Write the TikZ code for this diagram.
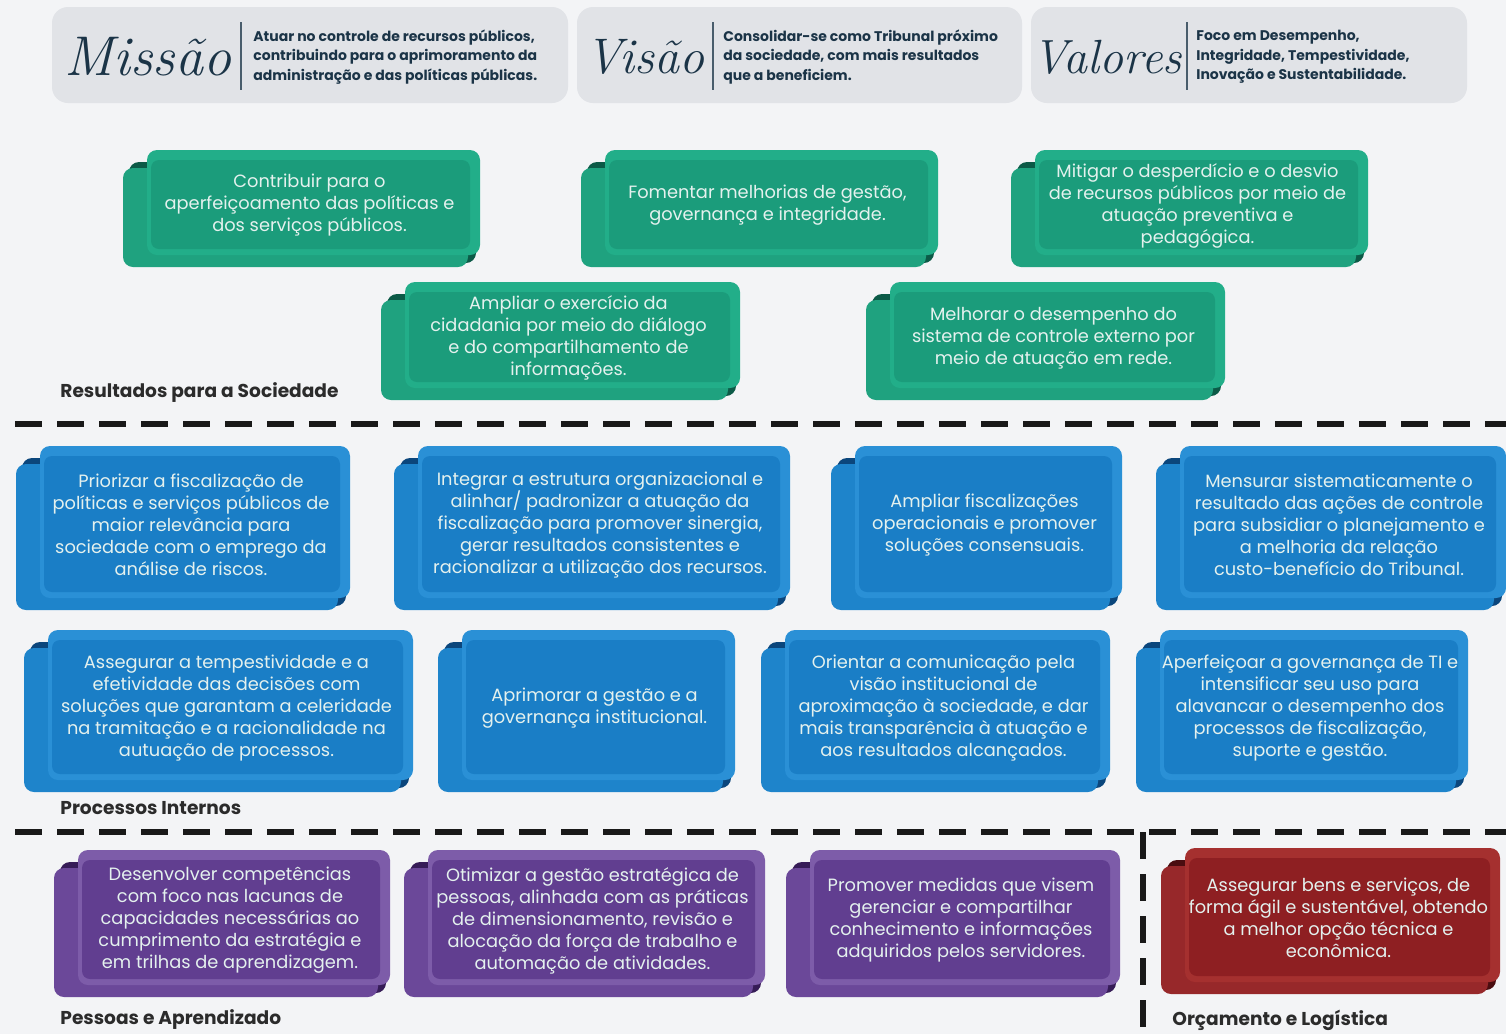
\documentclass[tikz,border=0pt]{standalone}
\usepackage{fontspec}
\newfontfamily\poppins{Poppins}
\usetikzlibrary{calc}

\definecolor{bgcol}{HTML}{F3F4F6}
\definecolor{headfill}{HTML}{E1E3E7}
\definecolor{navy}{HTML}{1B3447}
\definecolor{labelcol}{HTML}{2B2B2B}
\definecolor{boxtext}{HTML}{E4F1EE}
% resultados
\definecolor{resframe}{HTML}{22AE89}
\definecolor{resinner}{HTML}{1B9C7B}
\definecolor{resback}{HTML}{1FA27F}
\definecolor{resdark}{HTML}{0C5A47}
% processos
\definecolor{procframe}{HTML}{2A90D6}
\definecolor{procinner}{HTML}{1A7EC6}
\definecolor{procback}{HTML}{1E84CB}
\definecolor{procdark}{HTML}{0B467C}
% pessoas
\definecolor{pesframe}{HTML}{7D5CA9}
\definecolor{pesinner}{HTML}{613E90}
\definecolor{pesback}{HTML}{6B4899}
\definecolor{pesdark}{HTML}{361C57}
% orcamento
\definecolor{orcframe}{HTML}{A5302F}
\definecolor{orcinner}{HTML}{8E1F22}
\definecolor{orcback}{HTML}{97282A}
\definecolor{orcdark}{HTML}{4A0D10}

% #1 name, #2-#5 front box, #6 colour prefix, #7 text
\newcommand{\objbox}[7]{%
  \fill[#6dark, rounded corners=5pt] (#2-18,#3+12) rectangle (#4-4,#5+8);
  \fill[#6back, rounded corners=5pt] (#2-24,#3+18) rectangle (#4-12,#5+12);
  \fill[#6frame, rounded corners=5pt] (#2,#3) rectangle (#4,#5);
  \fill[#6inner, rounded corners=4pt] (#2+4,#3+10) rectangle (#4-10,#5-6);
  \node[objtext] (#1) at ({(#2+#4)/2-4},{(#3+#5)/2+3}) {#7};
}

\begin{document}
\begin{tikzpicture}[x=0.5pt,y=-0.5pt,
  objtext/.style={text=boxtext, align=center, inner sep=0pt,
    font=\poppins\fontsize{8.9}{11}\selectfont},
  headtext/.style={text=navy, align=left, anchor=west, inner sep=0pt,
    font=\poppins\bfseries\fontsize{7}{9.8}\selectfont},
  scriptword/.style={text=navy, inner sep=0pt,
    font=\fontsize{#1}{#1}\selectfont\itshape},
  headbar/.style={draw=navy!80, line width=1pt},
  seclabel/.style={text=labelcol, anchor=west, inner sep=0pt,
    font=\poppins\bfseries\fontsize{9.3}{11}\selectfont},
  sepline/.style={draw=black!90, line width=3pt, dash pattern=on 13.5pt off 7.5pt}]

  \useasboundingbox (0,0) rectangle (1506,1034);
  \fill[bgcol] (0,0) rectangle (1506,1034);

  % header
  \fill[headfill, rounded corners=8pt] (52,7) rectangle (568,103);
  \fill[headfill, rounded corners=8pt] (577,7) rectangle (1022,103);
  \fill[headfill, rounded corners=8pt] (1031,7) rectangle (1467,103);

  \node[scriptword=28] (missao) at (148,57) {Missão};
  \draw[headbar] (241,22) -- (241,90);
  \node[headtext] (missaotxt) at (253,57) {Atuar no controle de recursos públicos,\\contribuindo para o aprimoramento da\\administração e das políticas públicas.};

  \node[scriptword=25] (visao) at (645,57) {Visão};
  \draw[headbar] (713,22) -- (713,90);
  \node[headtext] (visaotxt) at (723,57) {Consolidar-se como Tribunal próximo\\da sociedade, com mais resultados\\que a beneficiem.};

  \node[scriptword=24] (valores) at (1107,57) {Valores};
  \draw[headbar] (1187,22) -- (1187,90);
  \node[headtext] (valorestxt) at (1196,57) {Foco em Desempenho,\\Integridade, Tempestividade,\\Inovação e Sustentabilidade.};

  % resultados para a sociedade
  \objbox{res1}{147}{150}{480}{255}{res}{Contribuir para o\\aperfeiçoamento das políticas e\\dos serviços públicos.}
  \objbox{res2}{605}{150}{938}{255}{res}{Fomentar melhorias de gestão,\\governança e integridade.}
  \objbox{res3}{1035}{150}{1368}{255}{res}{Mitigar o desperdício e o desvio\\de recursos públicos por meio de\\atuação preventiva e\\pedagógica.}
  \objbox{res4}{405}{282}{740}{388}{res}{Ampliar o exercício da\\cidadania por meio do diálogo\\e do compartilhamento de\\informações.}
  \objbox{res5}{890}{282}{1225}{388}{res}{Melhorar o desempenho do\\sistema de controle externo por\\meio de atuação em rede.}
  \node[seclabel] (lblres) at (60,393) {Resultados para a Sociedade};

  \draw[sepline] (15,424) -- (1506,424);

  % processos internos
  \objbox{proc1}{40}{446}{350}{598}{proc}{Priorizar a fiscalização de\\políticas e serviços públicos de\\maior relevância para\\sociedade com o emprego da\\análise de riscos.}
  \objbox{proc2}{418}{446}{790}{598}{proc}{Integrar a estrutura organizacional e\\alinhar/ padronizar a atuação da\\fiscalização para promover sinergia,\\gerar resultados consistentes e\\racionalizar a utilização dos recursos.}
  \objbox{proc3}{855}{446}{1122}{598}{proc}{Ampliar fiscalizações\\operacionais e promover\\soluções consensuais.}
  \objbox{proc4}{1180}{446}{1506}{598}{proc}{Mensurar sistematicamente o\\resultado das ações de controle\\para subsidiar o planejamento e\\a melhoria da relação\\custo-benefício do Tribunal.}
  \objbox{proc5}{48}{630}{413}{780}{proc}{Assegurar a tempestividade e a\\efetividade das decisões com\\soluções que garantam a celeridade\\na tramitação e a racionalidade na\\autuação de processos.}
  \objbox{proc6}{462}{630}{735}{780}{proc}{Aprimorar a gestão e a\\governança institucional.}
  \objbox{proc7}{785}{630}{1110}{780}{proc}{Orientar a comunicação pela\\visão institucional de\\aproximação à sociedade, e dar\\mais transparência à atuação e\\aos resultados alcançados.}
  \objbox{proc8}{1160}{630}{1468}{780}{proc}{Aperfeiçoar a governança de TI e\\intensificar seu uso para\\alavancar o desempenho dos\\processos de fiscalização,\\suporte e gestão.}
  \node[seclabel] (lblproc) at (60,808) {Processos Internos};

  \draw[sepline] (15,832) -- (1506,832);
  \draw[sepline] (1143,832) -- (1143,1034);

  % pessoas e aprendizado / orcamento e logistica
  \objbox{pes1}{78}{850}{390}{985}{pes}{Desenvolver competências\\com foco nas lacunas de\\capacidades necessárias ao\\cumprimento da estratégia e\\em trilhas de aprendizagem.}
  \objbox{pes2}{428}{850}{765}{985}{pes}{Otimizar a gestão estratégica de\\pessoas, alinhada com as práticas\\de dimensionamento, revisão e\\alocação da força de trabalho e\\automação de atividades.}
  \objbox{pes3}{810}{850}{1120}{985}{pes}{Promover medidas que visem\\gerenciar e compartilhar\\conhecimento e informações\\adquiridos pelos servidores.}
  \objbox{orc1}{1185}{848}{1500}{982}{orc}{Assegurar bens e serviços, de\\forma ágil e sustentável, obtendo\\a melhor opção técnica e\\econômica.}
  \node[seclabel] (lblpes) at (60,1020) {Pessoas e Aprendizado};
  \node[seclabel] (lblorc) at (1172,1020) {Orçamento e Logística};
\end{tikzpicture}
\end{document}
